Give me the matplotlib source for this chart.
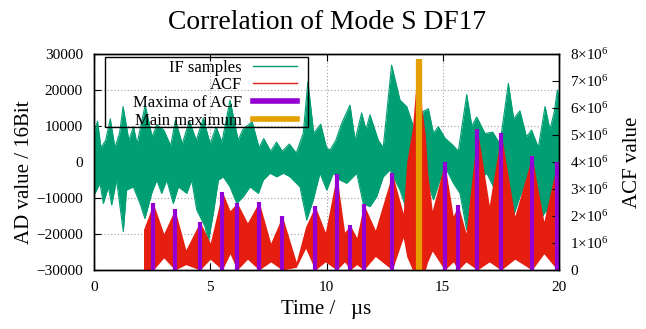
import matplotlib
matplotlib.use('Agg')
import matplotlib.pyplot as plt
from matplotlib.lines import Line2D
from matplotlib.patches import Rectangle
from matplotlib.ticker import FuncFormatter

plt.rcParams['font.family'] = ['Liberation Serif', 'DejaVu Serif']
plt.rcParams['mathtext.fontset'] = 'custom'
plt.rcParams['mathtext.rm'] = 'Liberation Serif'
plt.rcParams['mathtext.it'] = 'Liberation Serif:italic'

# IF samples, upper and lower envelope (AD value)
if_hi_t = [0.0, 0.15, 0.3, 0.5, 0.7, 0.9, 1.1, 1.25, 1.5, 1.7, 1.85, 2.2, 2.5, 2.7, 3.0, 3.3, 3.5,
           3.8, 4.1, 4.4, 4.7, 5.0, 5.25, 5.5, 5.85, 6.2, 6.4, 6.8, 7.1, 7.3, 7.6, 7.85, 8.1, 8.4,
           8.7, 9.0, 9.2, 9.45, 9.75, 10.0, 10.15, 10.4, 10.65, 11.01, 11.23, 11.51, 11.7, 11.87,
           12.23, 12.44, 12.8, 13.16, 13.45, 13.73, 14.0, 14.16, 14.38, 14.6, 14.81, 15.1, 15.43,
           15.67, 16.03, 16.25, 16.46, 16.82, 17.15, 17.46, 17.82, 18.05, 18.32, 18.6, 18.82,
           19.11, 19.4, 19.61, 19.8, 19.93, 20.0]
if_hi = [8000, 11300, 4000, 6000, 12000, 4000, 8000, 15400, 6000, 9800, 5000, 15800, 7000, 10300,
         8900, 4500, 11600, 5000, 11500, 6000, 12100, 5000, 9800, 5500, 17200, 6000, 9000, 11200,
         4000, 6500, 3000, 5500, 3000, 5000, 2500, 8000, 22300, 8000, 10500, 4000, 3300, 6000,
         10700, 15800, 6000, 13600, 9000, 13100, 6000, 4000, 26900, 17200, 15400, 10000, 9000,
         14000, 14800, 8000, 9800, 6600, 4700, 3000, 18700, 10000, 12500, 7900, 8300, 5000, 21800,
         12000, 14200, 7000, 8900, 4000, 15400, 9000, 14000, 20000, 18000]

if_lo_t = [0.0, 0.26, 0.40, 0.62, 0.76, 0.97, 1.26, 1.40, 1.69, 1.98, 2.19, 2.48, 2.70, 2.91, 3.13,
           3.41, 3.63, 3.99, 4.20, 4.42, 4.77, 4.92, 5.13, 5.35, 5.56, 5.85, 6.14, 6.42, 6.71, 7.07,
           7.28, 7.57, 7.86, 8.14, 8.43, 8.86, 9.15, 9.43, 9.72, 10.01, 10.29, 10.58, 10.87, 11.30,
           11.58, 11.87, 12.16, 12.44, 12.73, 13.16, 13.45, 13.88, 14.31, 14.60, 14.88, 15.17,
           15.46, 15.74, 16.03, 16.32, 16.60, 16.89, 17.18, 17.46, 17.75, 18.03, 18.32, 18.61,
           18.90, 19.18, 19.47, 19.76, 20.0]
if_lo = [-9200, -5900, -11500, -6900, -11900, -5000, -19300, -7800, -6900, -11500, -15700, -8700,
         -5000, -8700, -5000, -11500, -6900, -8700, -5000, -13300, -17900, -22100, -14300, -5000,
         -4100, -6900, -11500, -9600, -6900, -8700, -5000, -3100, -4100, -3100, -4100, -6900,
         -16100, -10500, -3100, -7800, -3100, -5000, -5900, -3100, -11500, -12400, -9600, -4100,
         -2200, -7800, -13300, -10500, -5000, -10500, -5000, -2200, -5900, -8700, -18900, -8700,
         -5000, -3100, -6900, -8700, -12400, -15200, -9600, -5000, -12400, -16100, -13300,
         -22600, -23600]

# ACF envelope (x10^6)
acf_t = [2.13, 2.55, 3.0, 3.48, 3.95, 4.56, 5.0, 5.52, 5.85, 6.16, 6.6, 7.10, 7.6, 8.10, 8.7, 9.1,
         9.51, 9.95, 10.44, 10.78, 11.02, 11.3, 11.60, 12.1, 12.83, 13.3, 13.45, 13.7, 13.85,
         13.97, 14.1, 14.25, 14.35, 14.55, 15.08, 15.45, 15.67, 16.0, 16.49, 17.0, 17.51, 18.1,
         18.84, 19.35, 19.93, 20.0]
acf_hi = [1.5, 2.47, 1.35, 2.25, 0.75, 1.79, 1.0, 2.90, 2.2, 2.49, 1.75, 2.53, 1.0, 2.00, 0.3,
          1.6, 2.37, 1.4, 3.54, 1.4, 1.66, 1.2, 2.44, 1.48, 3.58, 2.1, 4.0, 5.3, 6.9, 7.81, 6.0,
          5.0, 3.6, 2.2, 3.99, 2.0, 2.40, 1.37, 5.22, 2.4, 5.07, 2.0, 4.22, 1.8, 4.01, 3.5]
acf_lo = [0, 0, 0.45, 0, 0.2, 0, 0.4, 0, 0.6, 0, 0.4, 0, 0.3, 0, 0.1, 0.8, 0, 0.3, 0, 0.3, 0,
          0.2, 0, 0.5, 0, 1.2, 0.5, 0, 0, 0, 0, 0, 0.3, 0.7, 0, 0.3, 0, 0.3, 0, 0.3, 0, 0.4, 0,
          0.6, 0, 0]

max_t = [2.55, 3.48, 4.56, 5.52, 6.16, 7.10, 8.10, 9.51, 10.44, 11.02, 11.60, 12.83, 15.08,
         15.67, 16.49, 17.51, 18.84, 19.93]
max_v = [2.47, 2.25, 1.79, 2.90, 2.49, 2.53, 2.00, 2.37, 3.54, 1.66, 2.44, 3.58, 3.99, 2.40,
         5.22, 5.07, 4.22, 4.01]
main_t = 13.97
main_v = 7.81

green = '#009e73'
red = '#e51e10'
purple = '#9400d3'
orange = '#e69f00'

fig = plt.figure(figsize=(6.46, 3.29), dpi=100)
ax = fig.add_axes([94 / 646, 59 / 329, 465 / 646, 216 / 329])
ax2 = ax.twinx()

# the two halves overlap around zero so no seam shows
ax.fill_between(if_hi_t, if_hi, -2000, color=green, lw=0)
ax.fill_between(if_lo_t, if_lo, 2000, color=green, lw=0)
ax.plot(if_hi_t, if_hi, color=green, lw=0.8)
ax.plot(if_lo_t, if_lo, color=green, lw=0.8)

e6 = 1e6
ax2.fill_between(acf_t, [v * e6 for v in acf_lo], [v * e6 for v in acf_hi], color=red, lw=0)
ax2.vlines(max_t, 0, [v * e6 for v in max_v], color=purple, lw=3)
ax2.vlines([main_t], 0, [main_v * e6], color=orange, lw=4.5)

ax.set_xlim(0, 20)
ax.set_ylim(-30000, 30000)
ax2.set_ylim(0, 8e6)
ax.set_xticks([0, 5, 10, 15, 20])
ax.set_yticks(range(-30000, 30001, 10000))
ax2.set_yticks([i * e6 for i in range(9)])
ax2.yaxis.set_major_formatter(FuncFormatter(
    lambda v, p: '0' if v == 0 else r'$%d{\times}10^{%d}$' % (round(v / e6), 6)))

ax.grid(True, color='#a0a0a0', ls=(0, (1, 2)), lw=0.8)
ax.set_axisbelow(True)
ax.tick_params(direction='in', labelsize=11, length=5, pad=8, top=True)
ax2.tick_params(direction='in', labelsize=11, length=5, pad=8)
for a in (ax, ax2):
    for s in a.spines.values():
        s.set_linewidth(1.0)

ax.set_xlabel('Time /   µs', fontsize=15, labelpad=4)
ax.set_ylabel('AD value / 16Bit', fontsize=15)
ax.yaxis.set_label_coords(-0.129, 0.454)
ax2.set_ylabel('ACF value', fontsize=15)
ax2.yaxis.set_label_coords(1.138, 0.5)
ax.set_title('Correlation of Mode S DF17', fontsize=19.8, pad=18)

# key box
ax2.add_patch(Rectangle((0.0237, 0.662), 0.4366, 0.324, transform=ax2.transAxes,
                        fill=False, edgecolor='black', lw=1.0, zorder=5))
handles = [Line2D([], [], color=green, lw=1),
           Line2D([], [], color=red, lw=1),
           Line2D([], [], color=purple, lw=4),
           Line2D([], [], color=orange, lw=4)]
labels = ['IF samples', 'ACF', 'Maxima of ACF', 'Main maximum']
ax2.legend(handles, labels, loc='upper right', bbox_to_anchor=(0.4366, 0.974),
           borderaxespad=0, borderpad=0, markerfirst=False, fontsize=12, handlelength=2.65,
           handletextpad=0.65, labelspacing=0.1, frameon=False)

fig.savefig('out.png', dpi=100)
